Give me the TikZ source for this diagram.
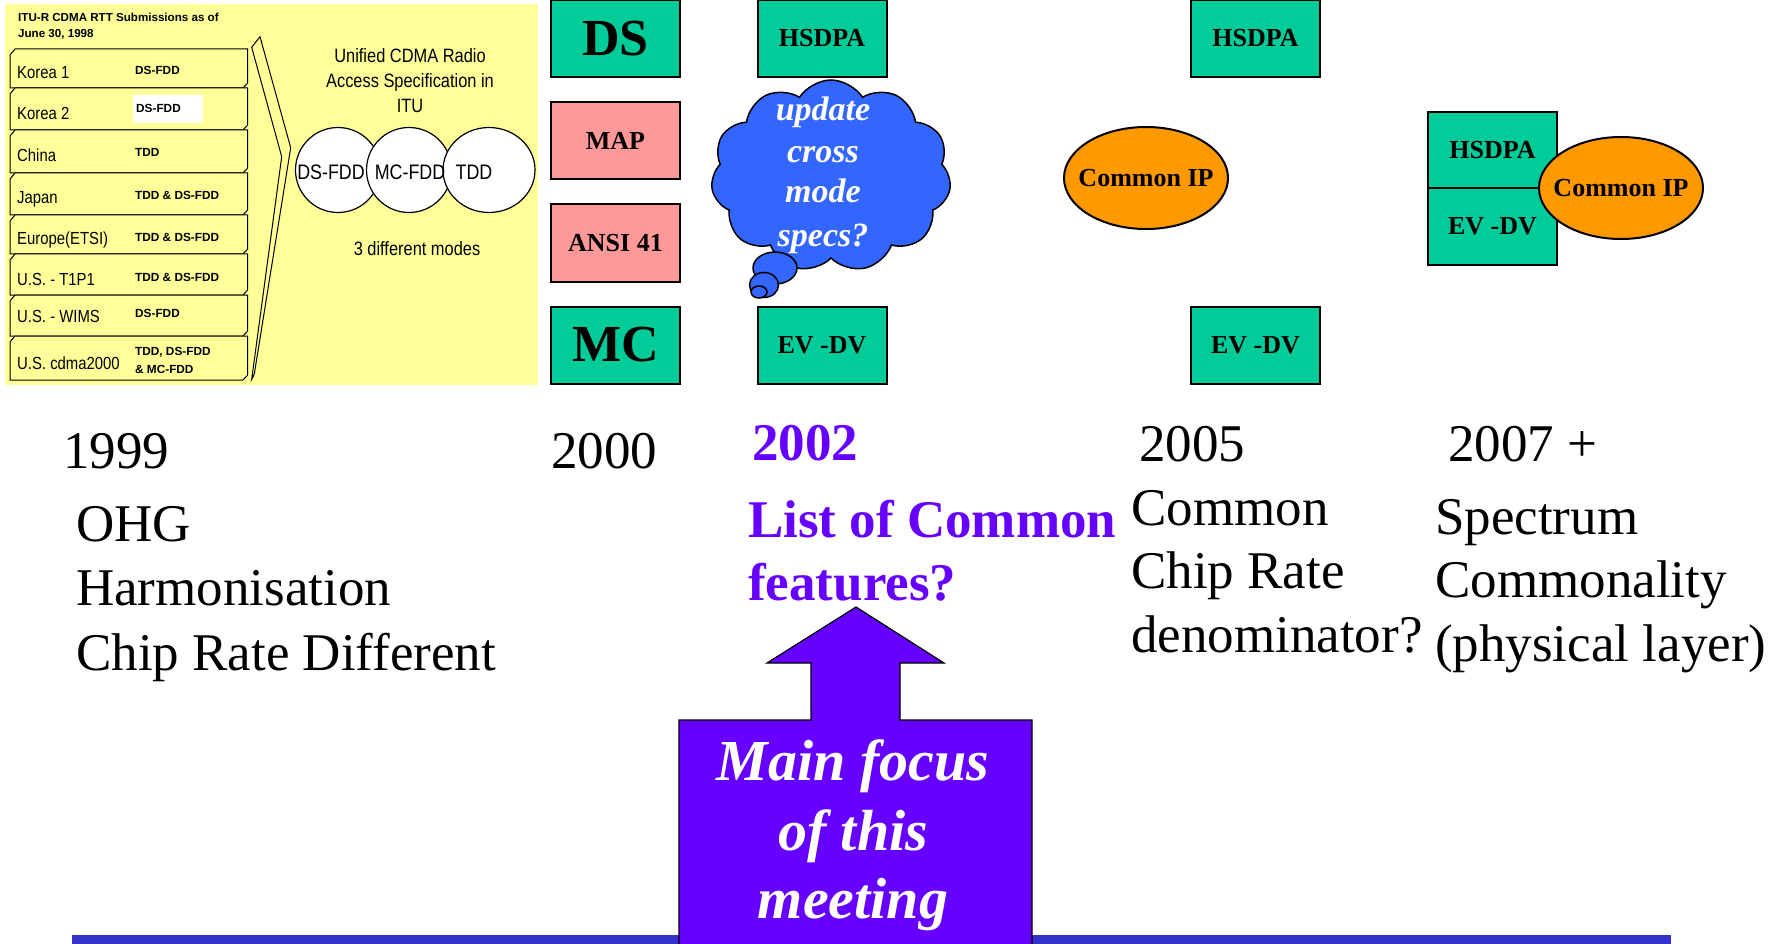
\documentclass[tikz,border=0pt]{standalone}
\usepackage{fontspec}
\setmainfont{Liberation Serif}
\newfontfamily\narrowsans{Liberation Sans}[FakeStretch=0.85]
\newfontfamily\plainsans{Liberation Sans}
\usetikzlibrary{shapes.geometric,shapes.symbols}
\definecolor{padyellow}{HTML}{FFFF99}
\definecolor{techgreen}{HTML}{00CC99}
\definecolor{corepink}{HTML}{FF9999}
\definecolor{iporange}{HTML}{FF9900}
\definecolor{thinkblue}{HTML}{3366FF}
\definecolor{focuspurple}{HTML}{6600FF}
\definecolor{baseblue}{HTML}{3333CC}
\newcommand\fs[1]{\fontsize{#1}{#1}\selectfont}
\begin{document}
\begin{tikzpicture}[x=1pt,y=-1pt,
  greenbox/.style={draw=black, line width=2, fill=techgreen, inner sep=0,
    minimum width=129, minimum height=77, font=\fs{26}\bfseries},
  pinkbox/.style={greenbox, fill=corepink},
  ipoval/.style={ellipse, draw=black, line width=2, fill=iporange, inner sep=0,
    minimum width=164, minimum height=102},
  iplabel/.style={inner sep=0, font=\fs{26}\bfseries},
  modecircle/.style={ellipse, draw=black, line width=1.2, fill=white, inner sep=0,
    minimum width=85, minimum height=85},
  modetext/.style={anchor=base, inner sep=0, font=\narrowsans\fs{21}},
  rowline/.style={draw=black, line width=1, fill=padyellow},
  rowlabel/.style={anchor=base west, inner sep=0, font=\narrowsans\fs{17.5}},
  rowcode/.style={anchor=base west, inner sep=0, font=\plainsans\bfseries\fs{11.8}},
  padtext/.style={anchor=base, inner sep=0, font=\narrowsans\fs{19.3}},
  bigtext/.style={anchor=base west, inner sep=0, font=\fs{53}},
  purpletext/.style={bigtext, text=focuspurple, font=\fs{53}\bfseries},
  cloudtext/.style={anchor=base, inner sep=0, text=white, font=\fs{34}\bfseries\itshape},
  focustext/.style={anchor=base, inner sep=0, text=white, font=\fs{58}\bfseries\itshape},
  bubble/.style={ellipse, draw=black, line width=1.5, fill=thinkblue, inner sep=0}
]
\useasboundingbox (0,0) rectangle (1781,944);
\clip (0,0) rectangle (1781,944);

% ---- 1999 panel: RTT submissions ----
\fill[padyellow] (5,4) rectangle (538,385);
\node[anchor=base west, inner sep=0, font=\plainsans\bfseries\fs{11.6}] (ttl1) at (18,22) {ITU-R CDMA RTT Submissions as of};
\node[anchor=base west, inner sep=0, font=\plainsans\bfseries\fs{11.6}] (ttl2) at (18,38) {June 30, 1998};
\foreach \t/\b in {49/88, 88/130, 130/173, 173/215, 215/254, 254/295, 295/336, 336/380}
  \draw[rowline] (10,\t+6) -- (15,\t) -- (247.7,\t) -- (247.7,\b-5) -- (243,\b) -- (10,\b) -- cycle;
\node[rowlabel] (r1) at (17,79) {Korea 1};
\node[rowlabel] (r2) at (17,120) {Korea 2};
\node[rowlabel] (r3) at (17,162) {China};
\node[rowlabel] (r4) at (17,204) {Japan};
\node[rowlabel] (r5) at (17,245) {Europe(ETSI)};
\node[rowlabel] (r6) at (17,285) {U.S. - T1P1};
\node[rowlabel] (r7) at (17,322) {U.S. - WIMS};
\node[rowlabel] (r8) at (17,369) {U.S. cdma2000};
\fill[white] (133,95) rectangle (203,123);
\node[rowcode] (c1) at (135,75) {DS-FDD};
\node[rowcode] (c2) at (136,113) {DS-FDD};
\node[rowcode] (c3) at (135,157) {TDD};
\node[rowcode] (c4) at (135,200) {TDD \& DS-FDD};
\node[rowcode] (c5) at (135,242) {TDD \& DS-FDD};
\node[rowcode] (c6) at (135,282) {TDD \& DS-FDD};
\node[rowcode] (c7) at (135,317) {DS-FDD};
\node[rowcode] (c8a) at (135,355) {TDD, DS-FDD};
\node[rowcode] (c8b) at (135,373) {\& MC-FDD};
% chevron pointing to the unified specification
\draw[line width=1, fill=padyellow, line join=miter]
  (251.7,47.3) -- (260,36.7) -- (290.7,147.7) -- (254.3,374) -- (251.7,379.3) -- (281.7,156.7) -- cycle;
\node[padtext] (u1) at (410,63) {Unified CDMA Radio};
\node[padtext] (u2) at (410,88) {Access Specification in};
\node[padtext] (u3) at (410,113) {ITU};
\node[modecircle] (m1) at (338,170) {};
\node[modecircle] (m2) at (409,170) {};
\node[modecircle, minimum width=92] (m3) at (489,170) {};
\node[modetext] (t1) at (331,180) {DS-FDD};
\node[modetext] (t2) at (410,180) {MC-FDD};
\node[modetext] (t3) at (474,180) {TDD};
\node[padtext] (modes) at (417,256) {3 different modes};

% ---- 2000 column ----
\node[greenbox, font=\fs{52}\bfseries] (ds) at (615.5,38.5) {DS};
\node[pinkbox] (map) at (615.5,140.5) {MAP};
\node[pinkbox] (ansi) at (615.5,243) {ANSI 41};
\node[greenbox, font=\fs{52}\bfseries] (mc) at (615.5,345) {MC};

% ---- 2002 column ----
\node[greenbox] (hs02) at (822,38.5) {HSDPA};
\node[greenbox] (ev02) at (822,345) {EV -DV};
\node[cloud, cloud puffs=11, cloud puff arc=115, aspect=1.25, draw=black, line width=1.5,
      fill=thinkblue, inner sep=0, minimum width=240, minimum height=192] (idea) at (831,176) {};
\node[bubble, minimum width=44, minimum height=32] (bub1) at (775,268) {};
\node[bubble, minimum width=29, minimum height=25] (bub2) at (764,285) {};
\node[bubble, minimum width=16, minimum height=12] (bub3) at (759,292) {};
\node[cloudtext] (ct1) at (823,121) {update};
\node[cloudtext] (ct2) at (823,163) {cross};
\node[cloudtext] (ct3) at (823,203) {mode};
\node[cloudtext] (ct4) at (823,247) {specs?};

% ---- 2005 column ----
\node[greenbox] (hs05) at (1255.5,38.5) {HSDPA};
\node[ipoval] (ip05) at (1146,178) {};
\node[iplabel] (ip05t) at (ip05.center) {Common IP};
\node[greenbox] (ev05) at (1255.5,345) {EV -DV};

% ---- 2007 column ----
\node[greenbox, minimum height=76] (hs07) at (1492.5,150) {HSDPA};
\node[greenbox, minimum height=77] (ev07) at (1492.5,226.5) {EV -DV};
\node[ipoval] (ip07) at (1621,188) {};
\node[iplabel] (ip07t) at (ip07.center) {Common IP};

% ---- timeline captions ----
\node[bigtext] (y99) at (63,468) {1999};
\node[bigtext] (a1) at (76,541) {OHG};
\node[bigtext] (a2) at (76,605) {Harmonisation};
\node[bigtext] (a3) at (76,670) {Chip Rate Different};
\node[bigtext] (y00) at (551,468) {2000};
\node[purpletext] (y02) at (752,460) {2002};
\node[purpletext] (b1) at (748,537) {List of Common};
\node[purpletext] (b2) at (748,600) {features?};
\node[bigtext] (y05) at (1139,461) {2005};
\node[bigtext] (d1) at (1131,525) {Common};
\node[bigtext] (d2) at (1131,588) {Chip Rate};
\node[bigtext] (d3) at (1131,652) {denominator?};
\node[bigtext] (y07) at (1448,461) {2007 +};
\node[bigtext] (e1) at (1435,534) {Spectrum};
\node[bigtext] (e2) at (1435,597) {Commonality};
\node[bigtext] (e3) at (1435,661) {(physical layer)};

% ---- baseline and focus arrow ----
\fill[baseblue] (72,935) rectangle (1671,944);
\draw[line width=1.2, fill=focuspurple, line join=miter]
  (856,607) -- (944,663) -- (900,663) -- (900,720) -- (1032,720) -- (1032,960)
  -- (679,960) -- (679,720) -- (811,720) -- (811,663) -- (767,663) -- cycle;
\node[focustext] (f1) at (853,780) {Main focus};
\node[focustext] (f2) at (853,850) {of this};
\node[focustext] (f3) at (853,918) {meeting};
\end{tikzpicture}
\end{document}
